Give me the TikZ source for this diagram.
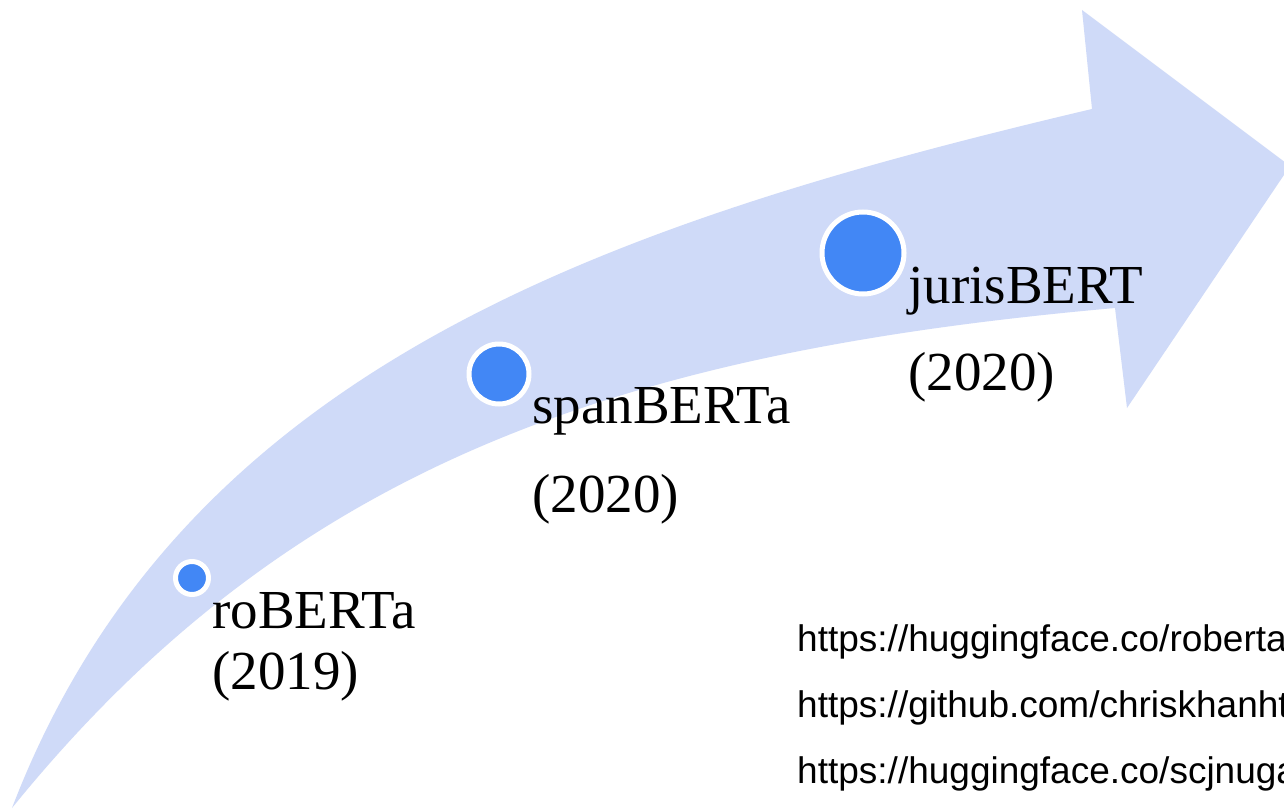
\documentclass[tikz,border=0pt]{standalone}
\usepackage{fontspec}
\setmainfont{Liberation Serif}
\newfontfamily\urlfont{Liberation Sans}
\definecolor{bandblue}{HTML}{CFDAF8}
\definecolor{dotblue}{HTML}{4287F5}
\tikzset{
  dot/.style={circle, fill=dotblue, draw=white, line width=5pt, inner sep=0pt, minimum size=#1},
  lbl/.style={anchor=base west, inner sep=0pt, font=\fontsize{55}{55}\selectfont},
  urltext/.style={anchor=base west, inner sep=0pt, font=\urlfont\fontsize{37}{37}\selectfont}
}
\begin{document}
\begin{tikzpicture}[x=1pt, y=-1pt]
\useasboundingbox (0,0) rectangle (1284,808);
\clip (0,0) rectangle (1284,808);
\fill[white] (0,0) rectangle (1284,808);
% curved arrow band
\fill[bandblue] (12,808) .. controls (180,370) and (600,225) .. (1092,109)
  -- (1082,10) -- (1290,166) -- (1127,408) -- (1115,308)
  .. controls (620,352) and (290,465) .. (12,808) -- cycle;
% milestones
\node[dot=33pt] (c1) at (192,578) {};
\node[dot=60pt] (c2) at (499,374) {};
\node[dot=82pt] (c3) at (863,253) {};
\node[lbl] (l1a) at (212,628) {roBERTa};
\node[lbl] (l1b) at (212,689) {(2019)};
\node[lbl] (l2a) at (532,423) {spanBERTa};
\node[lbl] (l2b) at (532,512) {(2020)};
\node[lbl] (l3a) at (908,303) {jurisBERT};
\node[lbl] (l3b) at (908,390) {(2020)};
% links
\node[urltext] (u1) at (797,651) {https://huggingface.co/roberta};
\node[urltext] (u2) at (797,717) {https://github.com/chriskhanht};
\node[urltext] (u3) at (797,783) {https://huggingface.co/scjnuga};
\end{tikzpicture}
\end{document}
